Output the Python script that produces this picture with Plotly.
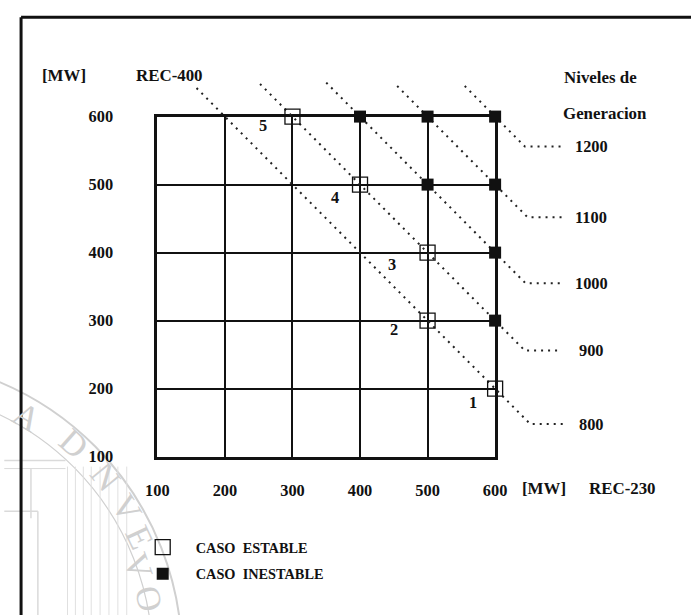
import math
import plotly.graph_objects as go

# ---- data -------------------------------------------------------------
ticks = [100, 200, 300, 400, 500, 600]

# stable operating cases (REC-230, REC-400) in MW, with case numbers
stable_x = [600, 500, 500, 400, 300]
stable_y = [200, 300, 400, 500, 600]
stable_id = ["1", "2", "3", "4", "5"]

# unstable operating cases
unstable_x = [400, 500, 600, 500, 600, 600, 600]
unstable_y = [600, 600, 600, 500, 500, 400, 300]

# generation levels (REC-230 + REC-400 = level)
levels = [800, 900, 1000, 1100, 1200]
level_top_y = [642, 648, 650, 645, 645]      # where each iso-line starts above the box
level_knee_x = [652, 644, 645, 648, 644]     # where it turns horizontal
level_tail_x = [702, 692, 699, 702, 702]     # end of the horizontal tail
level_label_x = 742

# ---- layout geometry ----------------------------------------------------
W, H = 691, 615                 # figure size
OFF = 8                         # page margin around the figure
SX = (W + 2 * OFF) / W          # sheet -> figure scale, horizontal
SY = (H + 2 * OFF) / H          # sheet -> figure scale, vertical
# plot box on the sheet (sheet pixels)
BOX_L, BOX_R, BOX_T, BOX_B = 155, 497, 116, 458


def fx(x):      # sheet x -> figure pixel x
    return x * SX - OFF


def fy(y):      # sheet y -> figure pixel y (from top)
    return y * SY - OFF


def px(x):
    return fx(x) / W


def py(y):
    return 1 - fy(y) / H


ppu_x = (fx(BOX_R) - fx(BOX_L)) / 500.0
ppu_y = (fy(BOX_B) - fy(BOX_T)) / 500.0
x2_range = [100 - fx(BOX_L) / ppu_x, 100 + (W - fx(BOX_L)) / ppu_x]
y2_range = [100 - (H - fy(BOX_B)) / ppu_y, 100 + fy(BOX_B) / ppu_y]

FONT = "Liberation Serif"
INK = "#111111"
SEAL = "#d0d0d0"


def serif(size, weight="bold", color=INK):
    return dict(family=FONT, size=size * SX, color=color, weight=weight)


fig = go.Figure()

# iso-generation dotted lines
for L, ty, kx, tx in zip(levels, level_top_y, level_knee_x, level_tail_x):
    fig.add_trace(go.Scatter(
        x=[L - ty, kx, tx], y=[ty, L - kx, L - kx],
        mode="lines", xaxis="x2", yaxis="y2",
        line=dict(color="#222222", width=2, dash="2px,5px"),
        showlegend=False, hoverinfo="skip"))

fig.add_trace(go.Scatter(
    x=stable_x, y=stable_y, mode="markers", xaxis="x2", yaxis="y2",
    name="CASO\u00a0 ESTABLE", legendgroup="a",
    marker=dict(symbol="square-open", size=15, color=INK, line=dict(width=1.3))))
fig.add_trace(go.Scatter(
    x=unstable_x, y=unstable_y, mode="markers", xaxis="x2", yaxis="y2",
    name="CASO\u00a0 INESTABLE", legendgroup="b",
    marker=dict(symbol="square", size=12, color=INK)))

# case numbers beside the stable points
num_shift = [(-22, -14), (-34, -9), (-36, -12), (-25, -13), (-29, -9)]
annotations = []
for x, y, t, (dx, dy) in zip(stable_x, stable_y, stable_id, num_shift):
    annotations.append(dict(x=x, y=y, xref="x", yref="y", text=t,
                            showarrow=False, xshift=dx, yshift=dy,
                            font=serif(16)))

# level labels at the end of each tail
for L, kx in zip(levels, level_knee_x):
    annotations.append(dict(x=level_label_x, y=L - kx, xref="x2", yref="y2",
                            text="%d" % L, showarrow=False, xanchor="center",
                            font=serif(16)))

# axis titles and heading
for text, cx, cy in [("[MW]", 60, 75), ("REC-400", 167, 75),
                     ("Niveles de", 604, 77), ("Generacion", 608, 113),
                     ("[MW]", 546, 490), ("REC-230", 626, 490)]:
    annotations.append(dict(x=px(cx), y=py(cy), xref="paper", yref="paper",
                            xanchor="center", yanchor="middle",
                            text=text, showarrow=False, font=serif(16.5)))

# faint seal in the lower-left corner
seal_cx, seal_cy = -120, 660
seal_letters = [("A", 22, 418), ("D", 70, 445), ("N", 102, 478), ("V", 124, 510),
                ("E", 137, 539), ("V", 136, 568), ("O", 146, 601)]
for ch, lx, ly in seal_letters:
    ang = math.degrees(math.atan2(ly - seal_cy, lx - seal_cx)) + 90
    annotations.append(dict(x=px(lx), y=py(ly), xref="paper", yref="paper",
                            xanchor="center", yanchor="middle",
                            text=ch, showarrow=False, textangle=ang,
                            font=serif(34, "normal", SEAL)))

shapes = []


def sheet_line(x0, y0, x1, y1, color, width, layer="above"):
    shapes.append(dict(type="line", xref="paper", yref="paper", layer=layer,
                       x0=px(x0), x1=px(x1), y0=py(y0), y1=py(y1),
                       line=dict(color=color, width=width)))


for r, w in [(300, 2), (270, 1.2)]:
    shapes.append(dict(type="circle", xref="paper", yref="paper", layer="below",
                       x0=px(seal_cx - r), x1=px(seal_cx + r),
                       y0=py(seal_cy + r), y1=py(seal_cy - r),
                       line=dict(color=SEAL, width=w)))

# building columns inside the seal
for cx in [64, 72, 80, 88, 97, 106, 115, 124]:
    sheet_line(cx, 468, cx, 620, "#e0e0e0", 1, "below")
sheet_line(0, 462, 62, 462, "#dadada", 1.5, "below")
sheet_line(0, 470, 62, 470, "#dadada", 1, "below")
sheet_line(27, 470, 27, 520, "#dadada", 1.5, "below")
sheet_line(0, 513, 34, 513, "#dadada", 1.5, "below")
sheet_line(34, 513, 34, 620, "#dadada", 1.5, "below")

# page frame (left and top rules)
sheet_line(17, 16, 17, H + 20, INK, 3)
sheet_line(17, 16, W + 20, 16, INK, 3)

axis_common = dict(range=[100, 600], tickvals=ticks, showgrid=True,
                   gridcolor=INK, showline=True, linecolor=INK, linewidth=3,
                   mirror=True, zeroline=False, ticks="",
                   tickfont=serif(16))

fig.update_layout(
    width=W, height=H, margin=dict(l=0, r=0, t=0, b=0),
    paper_bgcolor="white", plot_bgcolor="rgba(0,0,0,0)",
    xaxis=dict(domain=[px(BOX_L), px(BOX_R)], anchor="y", gridwidth=1.6,
               ticklabelstandoff=17, **axis_common),
    yaxis=dict(domain=[py(BOX_B), py(BOX_T)], anchor="x", gridwidth=2,
               ticklabelstandoff=38, **axis_common),
    xaxis2=dict(domain=[0, 1], range=x2_range, anchor="y2", visible=False),
    yaxis2=dict(domain=[0, 1], range=y2_range, anchor="x2", visible=False),
    showlegend=True,
    legend=dict(x=px(127), y=py(533), xanchor="left", yanchor="top",
                traceorder="grouped", tracegroupgap=5, itemwidth=56,
                bgcolor="rgba(0,0,0,0)", font=serif(14)),
    annotations=annotations, shapes=shapes,
)

fig.write_html("out.html")
